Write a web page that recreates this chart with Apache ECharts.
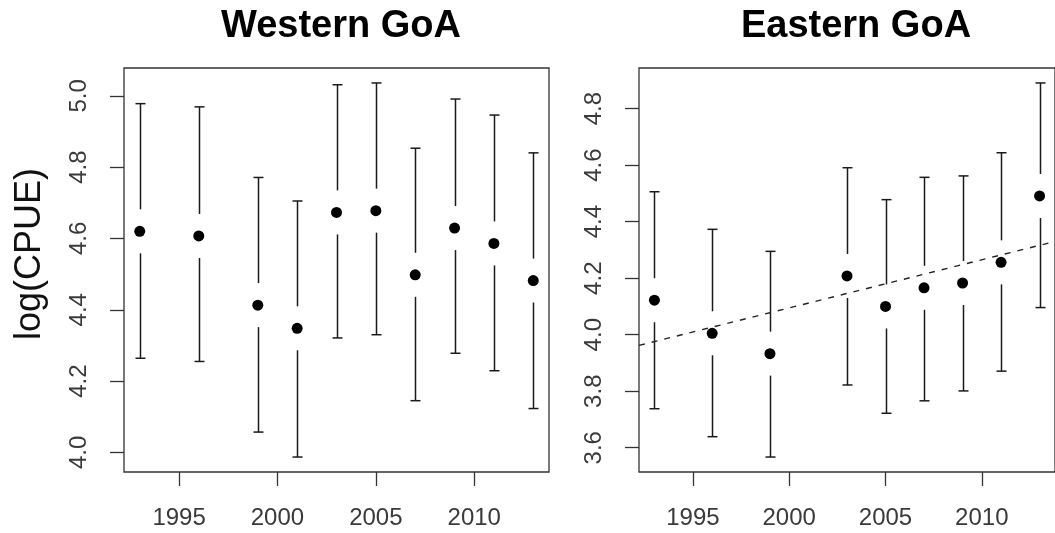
<!DOCTYPE html>
<html>
<head>
<meta charset="utf-8">
<script src="https://cdn.jsdelivr.net/npm/echarts@6/dist/echarts.min.js"></script>
<style>
html,body{margin:0;padding:0;background:#fff;}
#chart{width:1055px;height:533px;}
</style>
</head>
<body>
<div id="chart"></div>
<script>
// ---- data ----
const westYears = [1993, 1996, 1999, 2001, 2003, 2005, 2007, 2009, 2011, 2013];
const westMean  = [4.620, 4.607, 4.413, 4.348, 4.673, 4.678, 4.498, 4.629, 4.586, 4.482];
const westLower = [4.264, 4.255, 4.057, 3.987, 4.321, 4.330, 4.145, 4.278, 4.229, 4.123];
const westUpper = [4.978, 4.969, 4.771, 4.705, 5.031, 5.036, 4.853, 4.991, 4.946, 4.840];

const eastYears = [1993, 1996, 1999, 2003, 2005, 2007, 2009, 2011, 2013];
const eastMean  = [4.122, 4.005, 3.933, 4.208, 4.100, 4.166, 4.183, 4.256, 4.491];
const eastLower = [3.738, 3.639, 3.567, 3.822, 3.722, 3.766, 3.801, 3.871, 4.096];
const eastUpper = [4.506, 4.373, 4.295, 4.591, 4.478, 4.557, 4.562, 4.644, 4.891];

const trendYears  = [1992.2, 2013.8];
const trendValues = [3.962, 4.330];

const xTicks = [1995, 2000, 2005, 2010];
const westYTicks = [4.0, 4.2, 4.4, 4.6, 4.8, 5.0];
const eastYTicks = [3.6, 3.8, 4.0, 4.2, 4.4, 4.6, 4.8];

const titles = ['Western GoA', 'Eastern GoA'];
const yName = 'log(CPUE)';

// ---- helpers ----
function padRange(lo, hi) { const r = hi - lo; return [lo - 0.04 * r, hi + 0.04 * r]; }
const allYears = westYears.concat(eastYears);
const xr = padRange(Math.min(...allYears), Math.max(...allYears));
const wyr = padRange(Math.min(...westLower), Math.max(...westUpper));
const eyr = padRange(Math.min(...eastLower), Math.max(...eastUpper));

function rows(ys, m, lo, hi) { return ys.map((y, i) => [y, m[i], lo[i], hi[i]]); }

const FONT = 'Liberation Sans, Arial, sans-serif';
const INK = '#1a1a1a';

function errRender(params, api) {
  const x = api.value(0), m = api.value(1), lo = api.value(2), hi = api.value(3);
  const pm = api.coord([x, m]), pl = api.coord([x, lo]), ph = api.coord([x, hi]);
  const gap = 22, cap = 5;
  const px = Math.round(pm[0]) + 0.5;
  const style = { stroke: INK, lineWidth: 1.5, fill: null };
  const ch = [];
  if (pm[1] - gap > ph[1]) ch.push({ type: 'line', shape: { x1: px, y1: ph[1], x2: px, y2: pm[1] - gap }, style });
  ch.push({ type: 'line', shape: { x1: px - cap, y1: ph[1], x2: px + cap, y2: ph[1] }, style });
  if (pm[1] + gap < pl[1]) ch.push({ type: 'line', shape: { x1: px, y1: pm[1] + gap, x2: px, y2: pl[1] }, style });
  ch.push({ type: 'line', shape: { x1: px - cap, y1: pl[1], x2: px + cap, y2: pl[1] }, style });
  return { type: 'group', children: ch };
}

function xAxisCfg(idx) {
  return {
    type: 'value', gridIndex: idx, min: xr[0], max: xr[1],
    splitLine: { show: false },
    axisLine: { show: false },
    axisTick: { show: true, inside: false, length: 14, customValues: xTicks, lineStyle: { color: '#333', width: 1.3 } },
    axisLabel: { show: true, customValues: xTicks, margin: 34, fontSize: 24, color: '#3a3a3a', fontFamily: FONT,
      formatter: v => String(v) }
  };
}
function yAxisCfg(idx, r, ticks) {
  return {
    type: 'value', gridIndex: idx, min: r[0], max: r[1],
    splitLine: { show: false },
    axisLine: { show: false },
    axisTick: { show: true, inside: false, length: 14, customValues: ticks, lineStyle: { color: '#333', width: 1.3 } },
    axisLabel: { show: true, customValues: ticks, rotate: 90, margin: 33, fontSize: 24, color: '#3a3a3a', fontFamily: FONT,
      formatter: v => v.toFixed(1) }
  };
}

const chart = echarts.init(document.getElementById('chart'), null, { renderer: 'canvas' });
chart.setOption({
  animation: false,
  backgroundColor: '#fff',
  title: [
    { text: titles[0], left: 336, top: 3, textAlign: 'center',
      textStyle: { fontSize: 38, fontWeight: 'bold', color: '#000', fontFamily: FONT } },
    { text: titles[1], left: 851, top: 3, textAlign: 'center',
      textStyle: { fontSize: 38, fontWeight: 'bold', color: '#000', fontFamily: FONT } }
  ],
  grid: [
    { left: 124, top: 68, width: 425, height: 404, show: true, borderColor: '#333', borderWidth: 1.3, backgroundColor: 'transparent', containLabel: false },
    { left: 639, top: 68, width: 425, height: 404, show: true, borderColor: '#333', borderWidth: 1.3, backgroundColor: 'transparent', containLabel: false }
  ],
  xAxis: [xAxisCfg(0), xAxisCfg(1)],
  yAxis: [yAxisCfg(0, wyr, westYTicks), yAxisCfg(1, eyr, eastYTicks)],
  graphic: [
    { type: 'text', x: 30, y: 254, rotation: Math.PI / 2,
      style: { text: yName, fontSize: 36, fontFamily: FONT, fill: '#111', align: 'center', verticalAlign: 'middle' } }
  ],
  series: [
    { type: 'custom', xAxisIndex: 0, yAxisIndex: 0, renderItem: errRender, data: rows(westYears, westMean, westLower, westUpper), clip: false, silent: true },
    { type: 'scatter', xAxisIndex: 0, yAxisIndex: 0, symbol: 'circle', symbolSize: 11, itemStyle: { color: '#000', opacity: 1 },
      data: westYears.map((y, i) => [y, westMean[i]]), silent: true },
    { type: 'line', xAxisIndex: 1, yAxisIndex: 1, data: trendYears.map((y, i) => [y, trendValues[i]]), symbol: 'none',
      lineStyle: { color: '#222', width: 1.4, type: [6, 7] }, silent: true },
    { type: 'custom', xAxisIndex: 1, yAxisIndex: 1, renderItem: errRender, data: rows(eastYears, eastMean, eastLower, eastUpper), clip: false, silent: true },
    { type: 'scatter', xAxisIndex: 1, yAxisIndex: 1, symbol: 'circle', symbolSize: 11, itemStyle: { color: '#000', opacity: 1 },
      data: eastYears.map((y, i) => [y, eastMean[i]]), silent: true }
  ]
});
</script>
</body>
</html>
